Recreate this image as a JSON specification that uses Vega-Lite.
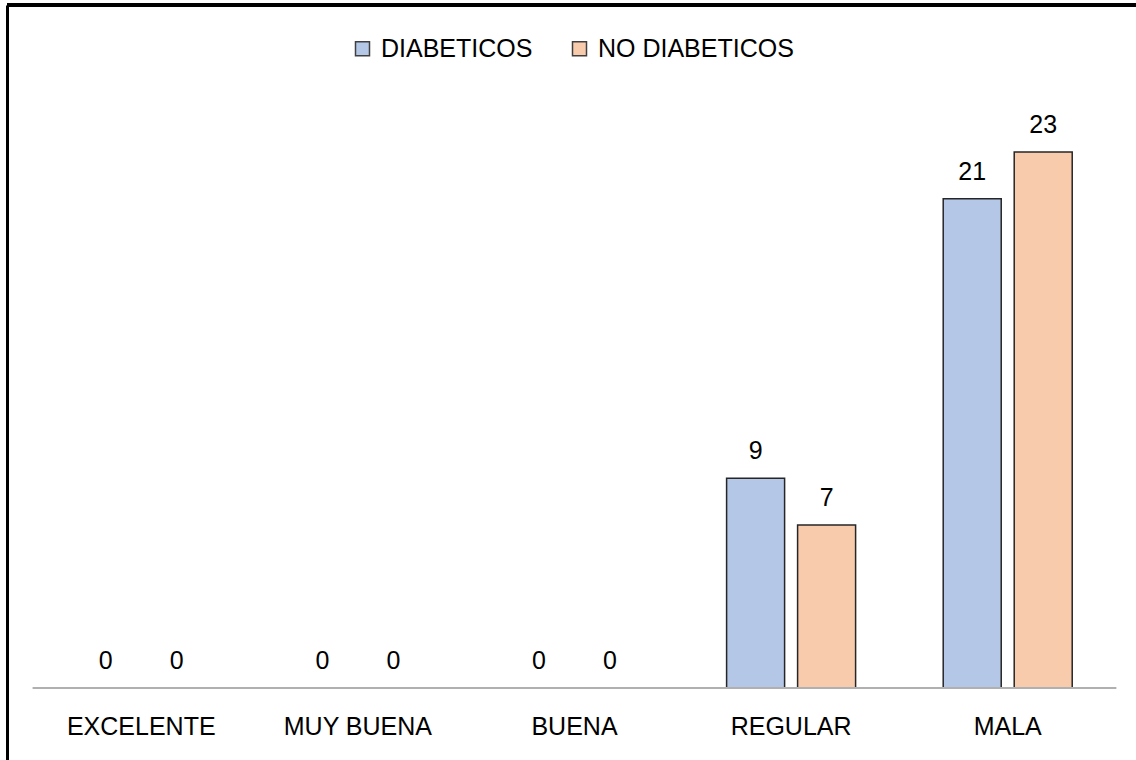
{
  "$schema": "https://vega.github.io/schema/vega-lite/v6.json",
  "autosize": {"type": "none"},
  "width": 1129,
  "height": 755,
  "padding": {"left": 7, "top": 5, "right": 0, "bottom": 0},
  "background": "white",
  "config": {
    "view": {"stroke": null},
    "font": "Liberation Sans, Arial, sans-serif",
    "axisX": {
      "offset": -72,
      "domain": false,
      "ticks": false,
      "tickSize": 0,
      "grid": false,
      "labelAngle": 0,
      "labelFontSize": 25,
      "labelColor": "#000000",
      "labelPadding": 26,
      "labelFont": "Liberation Sans, Arial, sans-serif"
    },
    "axisY": {
      "labels": false,
      "ticks": false,
      "grid": false,
      "domain": true,
      "domainColor": "#000000",
      "domainWidth": 3
    }
  },
  "data": {
    "values": [
      {"categoria": "EXCELENTE", "grupo": "DIABETICOS", "valor": 0},
      {"categoria": "EXCELENTE", "grupo": "NO DIABETICOS", "valor": 0},
      {"categoria": "MUY BUENA", "grupo": "DIABETICOS", "valor": 0},
      {"categoria": "MUY BUENA", "grupo": "NO DIABETICOS", "valor": 0},
      {"categoria": "BUENA", "grupo": "DIABETICOS", "valor": 0},
      {"categoria": "BUENA", "grupo": "NO DIABETICOS", "valor": 0},
      {"categoria": "REGULAR", "grupo": "DIABETICOS", "valor": 9},
      {"categoria": "REGULAR", "grupo": "NO DIABETICOS", "valor": 7},
      {"categoria": "MALA", "grupo": "DIABETICOS", "valor": 21},
      {"categoria": "MALA", "grupo": "NO DIABETICOS", "valor": 23}
    ]
  },
  "layer": [
    {
      "mark": {"type": "bar", "stroke": "#262626", "strokeWidth": 1.5},
      "encoding": {
        "x": {
          "field": "categoria",
          "type": "nominal",
          "title": null,
          "sort": ["EXCELENTE", "MUY BUENA", "BUENA", "REGULAR", "MALA"],
          "scale": {"paddingInner": 0, "paddingOuter": 0.106, "align": 0.565}
        },
        "xOffset": {
          "field": "grupo",
          "type": "nominal",
          "scale": {"paddingInner": 0.183, "paddingOuter": 0.617}
        },
        "y": {
          "field": "valor",
          "type": "quantitative",
          "title": null,
          "scale": {"domain": [-3.09, 29.31], "nice": false, "zero": false}
        },
        "y2": {"datum": 0},
        "fill": {
          "field": "grupo",
          "type": "nominal",
          "scale": {"domain": ["DIABETICOS", "NO DIABETICOS"], "range": ["#b4c7e7", "#f8cbad"]},
          "legend": {
            "title": null,
            "orient": "none",
            "direction": "horizontal",
            "legendX": 343,
            "legendY": 31,
            "symbolType": "square",
            "symbolSize": 196,
            "symbolStrokeColor": "#404040",
            "symbolStrokeWidth": 1.5,
            "labelFontSize": 25,
            "labelLimit": 400,
            "labelColor": "#000000",
            "labelFont": "Liberation Sans, Arial, sans-serif",
            "labelOffset": 6,
            "columnPadding": 34
          }
        }
      }
    },
    {
      "mark": {"type": "tick", "orient": "horizontal", "size": 217, "thickness": 2, "color": "#b0b0b0", "opacity": 1},
      "encoding": {
        "x": {"field": "categoria", "type": "nominal", "title": null, "sort": ["EXCELENTE", "MUY BUENA", "BUENA", "REGULAR", "MALA"]},
        "y": {"datum": 0, "type": "quantitative", "title": null}
      }
    },
    {
      "mark": {"type": "text", "baseline": "alphabetic", "dy": -19, "fontSize": 25, "color": "#000000"},
      "encoding": {
        "x": {"field": "categoria", "type": "nominal", "title": null, "sort": ["EXCELENTE", "MUY BUENA", "BUENA", "REGULAR", "MALA"]},
        "xOffset": {"field": "grupo", "type": "nominal"},
        "y": {"field": "valor", "type": "quantitative", "title": null},
        "text": {"field": "valor", "type": "quantitative"}
      }
    },
    {
      "mark": {"type": "rule", "color": "#000000", "strokeWidth": 3},
      "encoding": {
        "y": {"datum": 29.31, "type": "quantitative", "title": null}
      }
    }
  ]
}
